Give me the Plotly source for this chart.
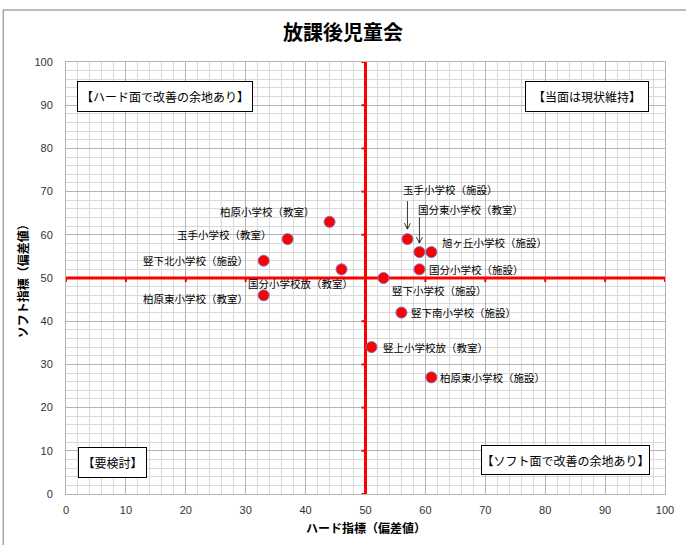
import plotly.graph_objects as go

# ---- data ----
schools = ["柏原小学校（教室）", "玉手小学校（教室）", "竪下北小学校（施設）", "国分小学校放（教室）",
           "柏原東小学校（教室）", "玉手小学校（施設）", "国分東小学校（教室）", "旭ヶ丘小学校（施設）",
           "国分小学校（施設）", "竪下小学校（施設）", "竪下南小学校（施設）", "竪上小学校放（教室）",
           "柏原東小学校（施設）"]
hard = [44, 37, 33, 46, 33, 57, 59, 61, 59, 53, 56, 51, 61]
soft = [63, 59, 54, 52, 46, 59, 56, 56, 52, 50, 42, 34, 27]
x_ticks = list(range(0, 101, 10))
y_ticks = list(range(0, 101, 10))
mid_x = 50
mid_y = 50
quadrants = ["【ハード面で改善の余地あり】", "【当面は現状維持】", "【要検討】", "【ソフト面で改善の余地あり】"]
title_text = "放課後児童会"
x_title = "ハード指標（偏差値）"
y_title = "ソフト指標（偏差値）"

# ---- label styles (anchor, xshift, yshift, arrow (tail px above, tip px above)) ----
label_style = [
    ("right", -13, 10, None),
    ("right", -14, 5, None),
    ("right", -14, 0, None),
    ("right", 13, -14, None),
    ("right", -14, -3, None),
    ("left", -6, 50, (38, 10)),
    ("left", -3, 43, (35, 9)),
    ("left", 9, 10, None),
    ("left", 8, 0, None),
    ("left", 7, -12, None),
    ("left", 8, 0, None),
    ("left", 10, 0, None),
    ("left", 7, 0, None),
]
quad_style = [  # paper x, paper y, width, height
    (0.165, 0.920, 170, 25),
    (0.870, 0.920, 118, 25),
    (0.077, 0.074, 63, 25),
    (0.834, 0.078, 163, 24),
]

JP = "Noto Sans CJK JP"
fig = go.Figure()
fig.add_trace(go.Scatter(
    x=hard, y=soft, mode="markers",
    marker=dict(size=11, color="#ff0000", line=dict(color="#7b6fc4", width=1)),
    hoverinfo="skip", showlegend=False))

shapes = [
    dict(type="rect", xref="paper", yref="paper", x0=-0.1047, x1=1.04, y0=-0.14, y1=1.1204,
         line=dict(color="#a6a6a6", width=1.5), layer="below"),
    dict(type="line", xref="x", yref="y", x0=mid_x, x1=mid_x, y0=0, y1=100,
         line=dict(color="#ff0000", width=3), layer="between"),
    dict(type="line", xref="x", yref="y", x0=0, x1=100, y0=mid_y, y1=mid_y,
         line=dict(color="#ff0000", width=3), layer="between"),
]
for v in y_ticks:
    shapes.append(dict(type="line", xref="x", yref="y", xsizemode="pixel", xanchor=mid_x,
                       x0=-4, x1=0, y0=v, y1=v, line=dict(color="#ff0000", width=2), layer="between"))
for v in x_ticks:
    shapes.append(dict(type="line", xref="x", yref="y", ysizemode="pixel", yanchor=mid_y,
                       y0=0, y1=-4, x0=v, x1=v, line=dict(color="#ff0000", width=2), layer="between"))

ann = []
for name, x, y, (anc, xs, ys, arrow) in zip(schools, hard, soft, label_style):
    ann.append(dict(x=x, y=y, xref="x", yref="y", text=name, showarrow=False,
                    xanchor=anc, yanchor="middle", xshift=xs, yshift=ys,
                    font=dict(family=JP, size=10.5, color="#000")))
    if arrow is not None:
        tail, tip = arrow
        shapes.append(dict(type="path", xref="x", yref="y", xsizemode="pixel", ysizemode="pixel",
                           xanchor=x, yanchor=y,
                           path=f"M0,{tail} L0,{tip} M-3,{tip + 6} L0,{tip} L3,{tip + 6}",
                           line=dict(color="#000", width=0.8), layer="above"))
for t, (px, py, w, h) in zip(quadrants, quad_style):
    ann.append(dict(x=px, y=py, xref="paper", yref="paper", text=t, showarrow=False,
                    xanchor="center", yanchor="middle", width=w, height=h,
                    bgcolor="#ffffff", bordercolor="#000", borderwidth=1, borderpad=2,
                    font=dict(family=JP, size=12, color="#000")))
ann.append(dict(x=0.5, y=-0.077, xref="paper", yref="paper", text="<b>" + x_title + "</b>",
                showarrow=False, xanchor="center", yanchor="middle",
                font=dict(family=JP, size=12, color="#000")))
ann.append(dict(x=-0.073, y=0.5, xref="paper", yref="paper", text="<b>" + y_title + "</b>",
                showarrow=False, xanchor="center", yanchor="middle", textangle=-90,
                font=dict(family=JP, size=12, color="#000")))

axis_common = dict(
    range=[0, 100], dtick=10, tick0=0, showgrid=True, gridcolor="#b3b3b3", gridwidth=1,
    minor=dict(dtick=2, showgrid=True, gridcolor="#d9d9d9", gridwidth=1),
    zeroline=False, showline=True, linecolor="#b3b3b3", linewidth=1, mirror=True,
    ticks="", tickfont=dict(family="Liberation Sans", size=11, color="#333"),
    fixedrange=True,
)
fig.update_layout(
    width=686, height=545,
    margin=dict(l=66, r=18, t=62, b=51),
    paper_bgcolor="#ffffff", plot_bgcolor="#ffffff",
    title=dict(text="<b>" + title_text + "</b>", x=0.5, xanchor="center",
               y=0.94, yanchor="middle", yref="container",
               font=dict(family=JP, size=20, color="#000")),
    xaxis=dict(**axis_common, tickvals=x_ticks, ticklabelstandoff=6),
    yaxis=dict(**axis_common, tickvals=y_ticks, ticklabelstandoff=10),
    annotations=ann, shapes=shapes,
)
fig.write_html("out.html", config={"displayModeBar": False},
               post_script="document.body.style.margin='0';")
